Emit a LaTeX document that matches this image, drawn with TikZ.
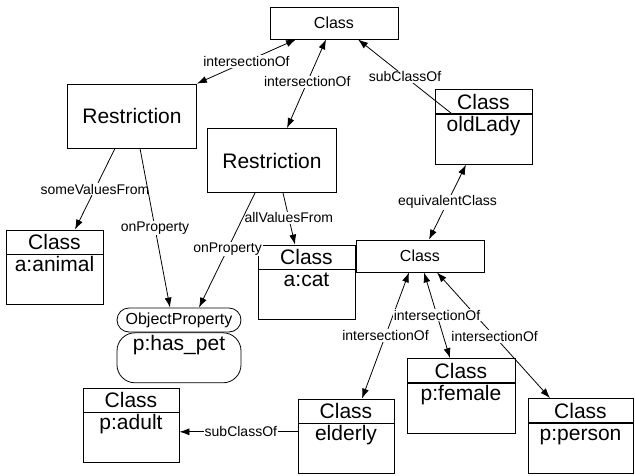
\documentclass[tikz,border=0pt]{standalone}
\usepackage{fontspec}
\setmainfont{Liberation Sans}
\usepackage{tikz}
\usetikzlibrary{positioning,arrows.meta}

\begin{document}
\begin{tikzpicture}[x=1pt,y=-1pt,
		every path/.style={line width=0.8pt},
		>={Latex[length=10pt,width=7pt]},
		head/.style={draw, inner sep=0pt, minimum width=#1, minimum height=24pt, font=\fontsize{21}{21}\selectfont},
		body/.style={draw, inner sep=0pt, minimum width=#1, text height=17pt, text depth=33pt, font=\fontsize{21}{21}\selectfont},
		restr/.style={draw, inner sep=0pt, minimum width=129pt, minimum height=64pt, font=\fontsize{21}{21}\selectfont},
		plain/.style={draw, inner sep=0pt, minimum width=128pt, minimum height=32pt, font=\fontsize{16}{16}\selectfont},
		lbl/.style={fill=white, inner sep=1pt, font=\fontsize{14}{14}\selectfont}]
		\useasboundingbox (0,0) rectangle (635,475);

		% top and middle class
		\node[plain] (clsTop) at (334,23) {Class};
		\node[plain] (clsMid) at (420,256) {Class};

		% restrictions
		\node[restr] (restrA) at (132,116) {Restriction};
		\node[restr] (restrB) at (272,160.5) {Restriction};

		% named classes
		\node[head=97pt] (oldLadyH) at (483.5,101.5) {Class};
		\node[body=97pt, below=0pt of oldLadyH] (oldLadyB) {oldLady};
		\node[head=97pt] (animalH) at (54.5,242) {Class};
		\node[body=97pt, below=0pt of animalH] (animalB) {a:animal};
		\node[head=97pt] (catH) at (306.5,257) {Class};
		\node[body=97pt, below=0pt of catH] (catB) {a:cat};
		\node[head=96pt] (adultH) at (131,400) {Class};
		\node[body=96pt, below=0pt of adultH] (adultB) {p:adult};
		\node[head=96pt] (elderlyH) at (346,411) {Class};
		\node[body=96pt, below=0pt of elderlyH] (elderlyB) {elderly};
		\node[head=108pt] (femaleH) at (461,370.5) {Class};
		\node[body=108pt, below=0pt of femaleH] (femaleB) {p:female};
		\node[head=105pt] (personH) at (580.5,410.5) {Class};
		\node[body=105pt, below=0pt of personH] (personB) {p:person};

		% object property
		\node[draw, rounded corners=12pt, inner sep=0pt, minimum width=124pt, minimum height=24pt, font=\fontsize{16}{16}\selectfont] (hasPetH) at (179,320) {ObjectProperty};
		\node[draw, rounded corners=18pt, inner sep=0pt, minimum width=124pt, text height=18pt, text depth=32pt, font=\fontsize{21}{21}\selectfont, below=0pt of hasPetH] (hasPetB) {p:has\_pet};

		% edges from the top class
		\draw[<->] ([xshift=-38pt]clsTop.south) -- node[lbl] {intersectionOf} (restrA.north east);
		\draw[<->] ([xshift=-8pt]clsTop.south) -- node[lbl,pos=.48] {intersectionOf} ([xshift=15pt]restrB.north);
		\draw[->] ([xshift=-31.5pt]oldLadyH.south) -- node[lbl] {subClassOf} ([xshift=24pt]clsTop.south);
		\draw[<->] ([xshift=-17.5pt]oldLadyB.south) -- node[lbl] {equivalentClass} ([xshift=9pt]clsMid.north);

		% restriction edges
		\draw[->] ([xshift=-17pt]restrA.south) -- node[lbl] {someValuesFrom} ([xshift=20.5pt]animalH.north);
		\draw[->] ([xshift=8pt]restrA.south) -- node[lbl] {onProperty} ([xshift=-9pt]hasPetH.north);
		\draw[->] ([xshift=11pt]restrB.south) -- node[lbl,pos=.48] {allValuesFrom} ([xshift=-11.5pt]catH.north);
		\draw[->] ([xshift=-17pt]restrB.south) -- node[lbl,pos=.49] {onProperty} ([xshift=20pt]hasPetH.north);

		% intersection of the middle class
		\draw[<->] ([xshift=17pt]clsMid.south) -- node[lbl,pos=.51] {intersectionOf} ([xshift=-30.5pt]personH.north);
		\draw[<->] ([xshift=-11pt]clsMid.south) -- node[lbl] {intersectionOf} ([xshift=16pt]elderlyH.north);
		\draw[<->] ([xshift=4pt]clsMid.south) -- node[lbl] {intersectionOf} ([xshift=-11pt]femaleH.north);

		\coordinate (eldSub) at ([yshift=17pt]elderlyB.west);
		\draw[->] (eldSub) -- node[lbl,pos=.48] {subClassOf} (eldSub -| adultB.east);
	\end{tikzpicture}
\end{document}
